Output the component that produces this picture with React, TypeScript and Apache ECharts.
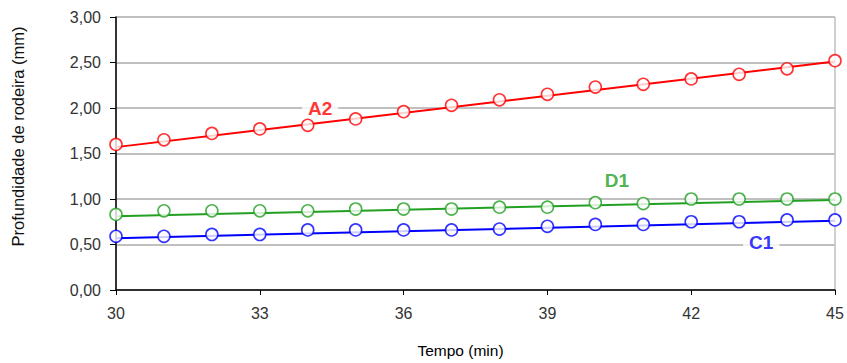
import React, { useEffect, useRef } from "react";
import * as echarts from "echarts";

const minutes = [30, 31, 32, 33, 34, 35, 36, 37, 38, 39, 40, 41, 42, 43, 44, 45];
const a2Values = [1.60, 1.65, 1.72, 1.77, 1.81, 1.88, 1.96, 2.03, 2.09, 2.15, 2.23, 2.26, 2.32, 2.37, 2.43, 2.52];
const d1Values = [0.83, 0.87, 0.87, 0.87, 0.87, 0.89, 0.89, 0.89, 0.91, 0.91, 0.96, 0.95, 1.00, 1.00, 1.00, 1.00];
const c1Values = [0.59, 0.59, 0.61, 0.61, 0.66, 0.66, 0.66, 0.66, 0.67, 0.70, 0.72, 0.72, 0.75, 0.75, 0.77, 0.77];
const trendX = [30, 45];
const a2Trend = [1.57, 2.51];
const d1Trend = [0.81, 0.99];
const c1Trend = [0.57, 0.76];
const seriesNames = ["A2", "D1", "C1"];
const labelPositions = [
  [34.26, 2.0],
  [40.45, 1.2],
  [43.46, 0.52],
];
const colors = ["#ff0000", "#22a022", "#0000ff"];

export default function App() {
  const ref = useRef<HTMLDivElement>(null);
  useEffect(() => {
    if (!ref.current) return;
    const chart = echarts.init(ref.current, undefined, { renderer: "svg" });
    const values = [a2Values, d1Values, c1Values];
    const trends = [a2Trend, d1Trend, c1Trend];
    const series: any[] = [];
    values.forEach((vals, i) => {
      series.push({
        type: "line",
        name: seriesNames[i] + " trend",
        data: trendX.map((x, j) => [x, trends[i][j]]),
        showSymbol: false,
        lineStyle: { color: colors[i], width: 2 },
        z: 2,
      });
      series.push({
        type: "scatter",
        name: seriesNames[i],
        data: minutes.map((m, j) => [m, vals[j]]),
        symbol: "circle",
        symbolSize: 12,
        itemStyle: { color: "#ffffff", borderColor: colors[i], borderWidth: 1.6 },
        z: 3,
      });
      series.push({
        type: "scatter",
        name: seriesNames[i] + " label",
        data: [labelPositions[i]],
        symbolSize: 0,
        silent: true,
        label: {
          show: true,
          position: "inside",
          formatter: seriesNames[i],
          color: colors[i],
          fontSize: 19,
          fontWeight: "bold",
          fontFamily: "Liberation Sans",
          backgroundColor: "#ffffff",
          padding: [0, 6],
        },
        z: 1,
      });
    });
    chart.setOption({
      animation: false,
      grid: {
        left: 116,
        right: 12,
        top: 17,
        bottom: 73,
        containLabel: false,
        outerBoundsMode: "none",
        show: true,
        borderColor: "#a0a0a0",
        borderWidth: 1,
      },
      xAxis: {
        type: "value",
        min: 30,
        max: 45,
        interval: 3,
        name: "Tempo (min)",
        nameLocation: "middle",
        nameGap: 52,
        nameTextStyle: { color: "#000", fontSize: 15.5, fontFamily: "Liberation Sans", padding: [0, 30, 0, 0] },
        axisLine: { lineStyle: { color: "#000", width: 1.5 } },
        axisTick: { show: true, length: 5, lineStyle: { color: "#000" } },
        axisLabel: { color: "#333", fontSize: 16, fontFamily: "Liberation Sans", margin: 15 },
        splitLine: { show: false },
      },
      yAxis: {
        type: "value",
        min: 0,
        max: 3,
        interval: 0.5,
        name: "Profundidade de rodeira (mm)",
        nameLocation: "middle",
        nameGap: 90,
        nameTextStyle: { color: "#111", fontSize: 16.5, fontFamily: "Liberation Sans", padding: [0, 0, 0, 34] },
        axisLine: { show: true, lineStyle: { color: "#000", width: 1.5 } },
        axisTick: { show: true, length: 6, lineStyle: { color: "#000" } },
        axisLabel: {
          color: "#333",
          fontSize: 16,
          fontFamily: "Liberation Sans",
          margin: 15,
          formatter: (v: number) => v.toFixed(2).replace(".", ","),
        },
        splitLine: { show: true, lineStyle: { color: "#c0c0c0", width: 2 } },
      },
      series,
    });
    return () => chart.dispose();
  }, []);
  return <div ref={ref} style={{ position: "absolute", left: 0, top: 0, width: 847, height: 363 }} />;
}
